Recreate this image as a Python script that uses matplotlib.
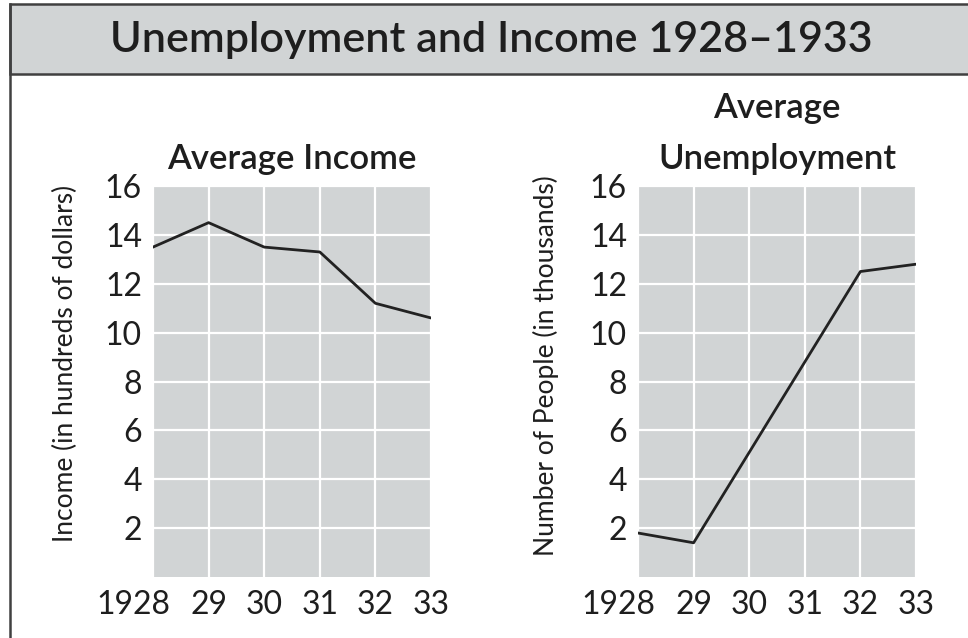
import matplotlib
matplotlib.use("Agg")
import matplotlib.pyplot as plt
from matplotlib.patches import Rectangle
from matplotlib.lines import Line2D
from matplotlib.transforms import ScaledTranslation

# Data
years = [1928, 1929, 1930, 1931, 1932, 1933]
year_labels = ["1928", "29", "30", "31", "32", "33"]
income = [13.5, 14.5, 13.5, 13.3, 11.2, 10.6]
unemployment = [1.8, 1.4, 5.1, 8.8, 12.5, 12.8]
y_ticks = [2, 4, 6, 8, 10, 12, 14, 16]

plt.rcParams["font.family"] = ["Lato", "DejaVu Sans"]

W, H = 968, 638
fig = plt.figure(figsize=(W / 100, H / 100), dpi=100)
fig.patch.set_facecolor("white")

band_color = "#d1d4d5"
border_color = "#404040"
text_color = "#1e1e1e"

# title band and outer frame
fig.patches.append(Rectangle((9.5 / W, 1 - 74 / H), 1.0, 70 / H,
                             transform=fig.transFigure, facecolor=band_color,
                             edgecolor=border_color, linewidth=1.8, zorder=0))
fig.lines.append(Line2D([9.5 / W, 9.5 / W], [0, 1 - 4 / H], transform=fig.transFigure,
                        color=border_color, linewidth=1.8))
fig.text(491 / W, 1 - 40 / H, "Unemployment and Income 1928–1933",
         ha="center", va="center", fontsize=31, fontweight=600, color=text_color)


def draw_panel(rect, values, title, ylabel, label_xy):
    ax = fig.add_axes(rect)
    ax.set_facecolor(band_color)
    ax.plot(years, values, color="#222222", linewidth=2.0, zorder=3)
    ax.set_xlim(years[0], years[-1])
    ax.set_ylim(0, 16)
    ax.set_xticks(years)
    ax.set_xticklabels(year_labels)
    ax.set_yticks(y_ticks)
    ax.grid(True, color="white", linewidth=1.6)
    ax.set_axisbelow(True)
    for s in ax.spines.values():
        s.set_visible(False)
    ax.tick_params(length=0, labelsize=23, colors=text_color, pad=8)
    ax.tick_params(axis="x", pad=9)
    # first year label sits left of the axis start
    first = ax.get_xticklabels()[0]
    first.set_transform(first.get_transform() + ScaledTranslation(-0.2, 0, fig.dpi_scale_trans))
    ax.set_title(title, fontsize=25, fontweight=600, color=text_color,
                 pad=12, linespacing=1.75)
    ax.set_ylabel(ylabel, fontsize=19, color=text_color)
    ax.yaxis.set_label_coords(*label_xy)
    return ax


ax1 = draw_panel([153 / W, 1 - 577 / H, 278 / W, 391 / H], income,
                 "Average Income", "Income (in hundreds of dollars)", (-0.27, 0.547))
ax2 = draw_panel([638 / W, 1 - 577 / H, 278 / W, 391 / H], unemployment,
                 "Average\nUnemployment", "Number of People (in thousands)", (-0.285, 0.54))

fig.savefig("out.png", dpi=100)
